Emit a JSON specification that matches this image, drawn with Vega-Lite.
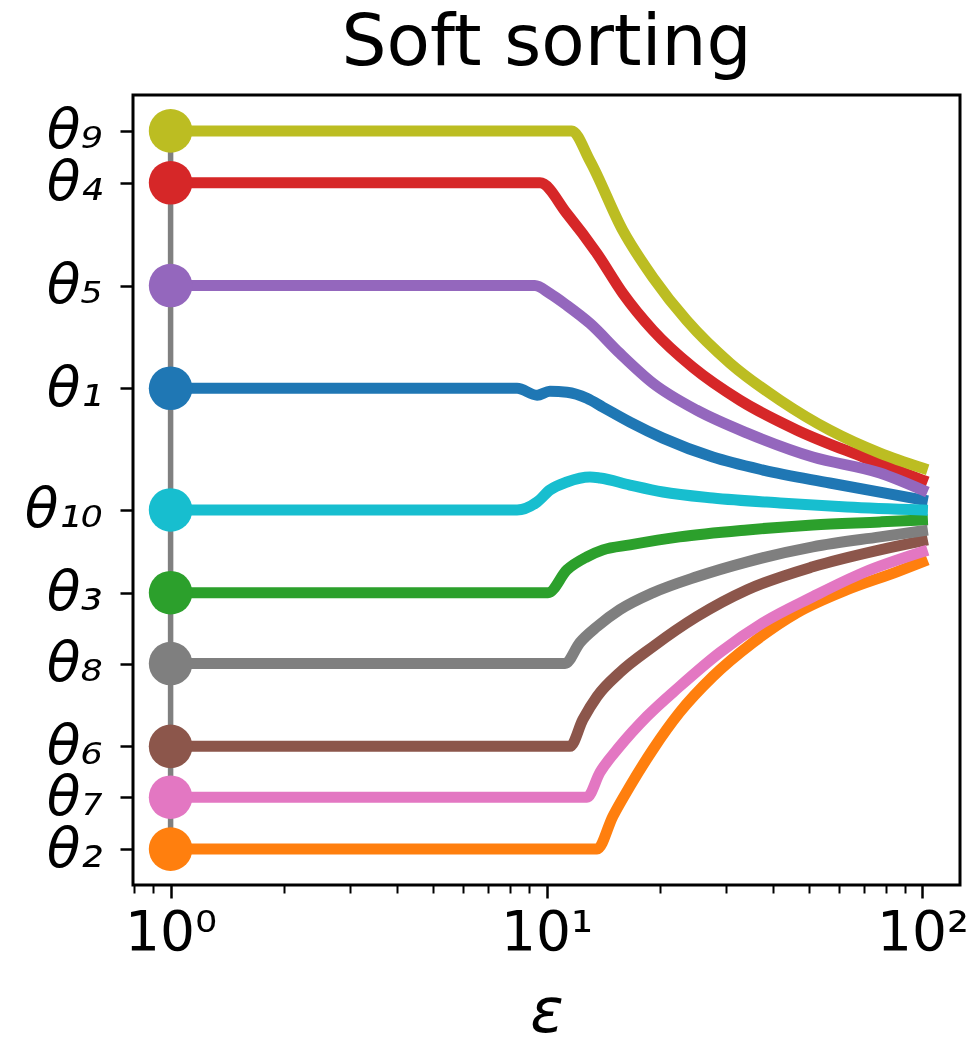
{
  "$schema": "https://vega.github.io/schema/vega-lite/v6.json",
  "width": 827,
  "height": 790,
  "autosize": {"type": "none"},
  "padding": {"left": 133, "top": 95, "right": 8, "bottom": 157},
  "background": "white",
  "config": {
    "view": {"stroke": "black", "strokeWidth": 3},
    "axis": {"grid": false, "domain": false, "tickColor": "black", "labelColor": "black", "titleColor": "black", "labelFont": "DejaVu Sans", "titleFont": "DejaVu Sans"}
  },
  "title": {"text": "Soft sorting", "font": "DejaVu Sans", "fontSize": 71, "fontWeight": "normal", "color": "black", "anchor": "middle", "frame": "group", "baseline": "alphabetic", "offset": -41},
  "datasets": {
    "curves": [
      {"s": "θ1", "eps": 1, "v": 462}, {"s": "θ1", "eps": 8.35, "v": 462}, {"s": "θ1", "eps": 9.44, "v": 455}, {"s": "θ1", "eps": 10.21, "v": 459}, {"s": "θ1", "eps": 11.34, "v": 458}, {"s": "θ1", "eps": 12.81, "v": 452}, {"s": "θ1", "eps": 14.13, "v": 443}, {"s": "θ1", "eps": 16.67, "v": 428}, {"s": "θ1", "eps": 20.4, "v": 412}, {"s": "θ1", "eps": 27.7, "v": 393}, {"s": "θ1", "eps": 37.7, "v": 380}, {"s": "θ1", "eps": 56.7, "v": 367}, {"s": "θ1", "eps": 100, "v": 350},
      {"s": "θ2", "eps": 1, "v": 0}, {"s": "θ2", "eps": 13.63, "v": 0}, {"s": "θ2", "eps": 15.02, "v": 33}, {"s": "θ2", "eps": 16.67, "v": 63}, {"s": "θ2", "eps": 19.2, "v": 100}, {"s": "θ2", "eps": 22.6, "v": 137}, {"s": "θ2", "eps": 27.7, "v": 173}, {"s": "θ2", "eps": 35.4, "v": 207}, {"s": "θ2", "eps": 46.4, "v": 237}, {"s": "θ2", "eps": 63, "v": 260}, {"s": "θ2", "eps": 85.5, "v": 278}, {"s": "θ2", "eps": 100, "v": 288},
      {"s": "θ3", "eps": 1, "v": 257}, {"s": "θ3", "eps": 10.09, "v": 257}, {"s": "θ3", "eps": 11.34, "v": 280}, {"s": "θ3", "eps": 12.81, "v": 293}, {"s": "θ3", "eps": 14.13, "v": 300}, {"s": "θ3", "eps": 16.67, "v": 305}, {"s": "θ3", "eps": 22.6, "v": 313}, {"s": "θ3", "eps": 34.2, "v": 320}, {"s": "θ3", "eps": 51.1, "v": 325}, {"s": "θ3", "eps": 77.1, "v": 328}, {"s": "θ3", "eps": 100, "v": 330},
      {"s": "θ4", "eps": 1, "v": 668}, {"s": "θ4", "eps": 9.61, "v": 668}, {"s": "θ4", "eps": 11.34, "v": 637}, {"s": "θ4", "eps": 13.63, "v": 597}, {"s": "θ4", "eps": 15.97, "v": 557}, {"s": "θ4", "eps": 19.2, "v": 520}, {"s": "θ4", "eps": 24.5, "v": 483}, {"s": "θ4", "eps": 32.7, "v": 450}, {"s": "θ4", "eps": 46.4, "v": 420}, {"s": "θ4", "eps": 69.5, "v": 393}, {"s": "θ4", "eps": 100, "v": 370},
      {"s": "θ5", "eps": 1, "v": 565}, {"s": "θ5", "eps": 9.31, "v": 565}, {"s": "θ5", "eps": 10.21, "v": 557}, {"s": "θ5", "eps": 11.34, "v": 545}, {"s": "θ5", "eps": 13.05, "v": 527}, {"s": "θ5", "eps": 15.67, "v": 497}, {"s": "θ5", "eps": 19.2, "v": 467}, {"s": "θ5", "eps": 25.1, "v": 440}, {"s": "θ5", "eps": 34.2, "v": 417}, {"s": "θ5", "eps": 51.1, "v": 393}, {"s": "θ5", "eps": 77.1, "v": 377}, {"s": "θ5", "eps": 100, "v": 360},
      {"s": "θ6", "eps": 1, "v": 103}, {"s": "θ6", "eps": 11.55, "v": 103}, {"s": "θ6", "eps": 12.5, "v": 130}, {"s": "θ6", "eps": 13.63, "v": 153}, {"s": "θ6", "eps": 15.67, "v": 177}, {"s": "θ6", "eps": 19.2, "v": 203}, {"s": "θ6", "eps": 25.1, "v": 233}, {"s": "θ6", "eps": 34.2, "v": 260}, {"s": "θ6", "eps": 51.1, "v": 283}, {"s": "θ6", "eps": 77.1, "v": 300}, {"s": "θ6", "eps": 100, "v": 309},
      {"s": "θ7", "eps": 1, "v": 52}, {"s": "θ7", "eps": 12.81, "v": 52}, {"s": "θ7", "eps": 13.88, "v": 77}, {"s": "θ7", "eps": 15.67, "v": 103}, {"s": "θ7", "eps": 18.5, "v": 133}, {"s": "θ7", "eps": 22.6, "v": 163}, {"s": "θ7", "eps": 28.9, "v": 197}, {"s": "θ7", "eps": 37.7, "v": 227}, {"s": "θ7", "eps": 51.1, "v": 253}, {"s": "θ7", "eps": 69.5, "v": 277}, {"s": "θ7", "eps": 100, "v": 298},
      {"s": "θ8", "eps": 1, "v": 186}, {"s": "θ8", "eps": 11.2, "v": 186}, {"s": "θ8", "eps": 12.27, "v": 207}, {"s": "θ8", "eps": 13.63, "v": 223}, {"s": "θ8", "eps": 15.67, "v": 240}, {"s": "θ8", "eps": 19.2, "v": 257}, {"s": "θ8", "eps": 25.1, "v": 273}, {"s": "θ8", "eps": 34.2, "v": 288}, {"s": "θ8", "eps": 51.1, "v": 303}, {"s": "θ8", "eps": 77.1, "v": 313}, {"s": "θ8", "eps": 100, "v": 319},
      {"s": "θ9", "eps": 1, "v": 720}, {"s": "θ9", "eps": 11.67, "v": 720}, {"s": "θ9", "eps": 13.05, "v": 690}, {"s": "θ9", "eps": 15.97, "v": 620}, {"s": "θ9", "eps": 19.2, "v": 573}, {"s": "θ9", "eps": 23.6, "v": 530}, {"s": "θ9", "eps": 30.8, "v": 487}, {"s": "θ9", "eps": 41.8, "v": 450}, {"s": "θ9", "eps": 56.7, "v": 420}, {"s": "θ9", "eps": 77.1, "v": 397}, {"s": "θ9", "eps": 100, "v": 382},
      {"s": "θ10", "eps": 1, "v": 340}, {"s": "θ10", "eps": 8.35, "v": 340}, {"s": "θ10", "eps": 9.44, "v": 348}, {"s": "θ10", "eps": 10.21, "v": 360}, {"s": "θ10", "eps": 11.34, "v": 368}, {"s": "θ10", "eps": 13.05, "v": 373}, {"s": "θ10", "eps": 13.88, "v": 372}, {"s": "θ10", "eps": 16.67, "v": 365}, {"s": "θ10", "eps": 20.4, "v": 358}, {"s": "θ10", "eps": 27.7, "v": 352}, {"s": "θ10", "eps": 41.8, "v": 347}, {"s": "θ10", "eps": 63, "v": 343}, {"s": "θ10", "eps": 100, "v": 340}
    ],
    "stem": [{"eps": 1, "lo": 0, "hi": 720}]
  },
  "encoding": {
    "x": {
      "field": "eps", "type": "quantitative",
      "scale": {"type": "log", "domain": [0.7943, 125.89], "nice": false},
      "axis": {
        "title": "ε", "titleFontSize": 62, "titleFontStyle": "italic", "titleFontWeight": "normal", "titlePadding": 22,
        "values": [0.8, 0.9, 1, 2, 3, 4, 5, 6, 7, 8, 9, 10, 20, 30, 40, 50, 60, 70, 80, 90, 100],
        "labelExpr": "datum.value == 1 ? '10⁰' : datum.value == 10 ? '10¹' : datum.value == 100 ? '10²' : ''",
        "labelFontSize": 55, "labelPadding": 8, "labelFlush": false, "labelOverlap": false,
        "tickSize": {"condition": {"test": "datum.value == 1 || datum.value == 10 || datum.value == 100", "value": 13}, "value": 8},
        "tickWidth": {"condition": {"test": "datum.value == 1 || datum.value == 10 || datum.value == 100", "value": 2.5}, "value": 2}
      }
    },
    "y": {
      "field": "v", "type": "quantitative",
      "scale": {"domain": [-36, 756], "nice": false, "zero": false},
      "axis": {
        "title": null,
        "values": [0, 52, 103, 186, 257, 340, 462, 565, 668, 720],
        "labelExpr": "datum.value == 0 ? 'θ₂' : datum.value == 52 ? 'θ₇' : datum.value == 103 ? 'θ₆' : datum.value == 186 ? 'θ₈' : datum.value == 257 ? 'θ₃' : datum.value == 340 ? 'θ₁₀' : datum.value == 462 ? 'θ₁' : datum.value == 565 ? 'θ₅' : datum.value == 668 ? 'θ₄' : 'θ₉'",
        "labelFontSize": 55, "labelFontStyle": "italic", "labelPadding": 18, "labelOverlap": false, "labelFlush": false,
        "tickSize": 13, "tickWidth": 2.5
      }
    }
  },
  "layer": [
    {
      "data": {"name": "curves"},
      "mark": {"type": "line", "strokeWidth": 11, "strokeCap": "square", "strokeJoin": "round", "interpolate": "monotone"},
      "encoding": {
        "color": {"field": "s", "type": "nominal", "legend": null,
          "scale": {"domain": ["θ1", "θ2", "θ3", "θ4", "θ5", "θ6", "θ7", "θ8", "θ9", "θ10"],
                    "range": ["#1f77b4", "#ff7f0e", "#2ca02c", "#d62728", "#9467bd", "#8c564b", "#e377c2", "#7f7f7f", "#bcbd22", "#17becf"]}},
        "order": {"field": "eps", "type": "quantitative"}
      }
    },
    {
      "data": {"name": "stem"},
      "mark": {"type": "rule", "strokeWidth": 5.5, "color": "#808080"},
      "encoding": {
        "y": {"field": "lo", "type": "quantitative"},
        "y2": {"field": "hi"}
      }
    },
    {
      "data": {"name": "curves"},
      "transform": [{"filter": "datum.eps == 1"}],
      "mark": {"type": "point", "filled": true, "opacity": 1, "size": 1900, "shape": "circle"},
      "encoding": {
        "color": {"field": "s", "type": "nominal", "legend": null}
      }
    }
  ]
}
